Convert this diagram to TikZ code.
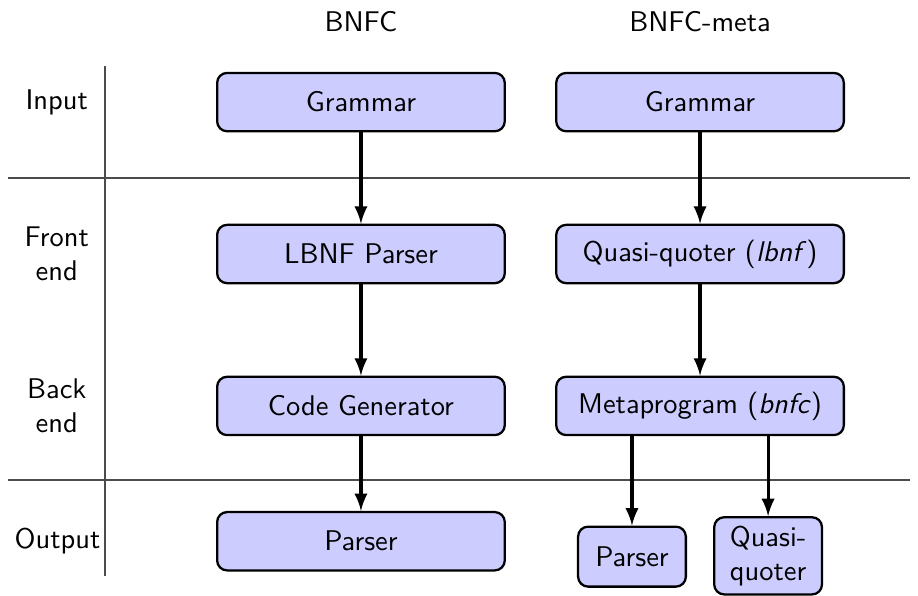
\documentclass[tikz,border=0pt]{standalone}
\usepackage{tikz}
\usetikzlibrary{positioning, arrows, calc}
\renewcommand{\familydefault}{\sfdefault}

\begin{document}
\begin{tikzpicture}[->, >=latex, thick]
	\tikzstyle{stage}=[rectangle, rounded corners=3.5pt, draw=black, fill=blue!20, minimum width=3.55cm, minimum height=0.72cm, inner sep=3pt]
	\tikzstyle{small stage}=[stage, minimum width=1.33cm, minimum height=0.74cm, align=center]
	\tikzstyle{phase}=[align=center]
	\tikzstyle{divider}=[-, draw=black!70, semithick]
	\tikzstyle{flow}=[line width=1.1pt]

	\useasboundingbox (0,0) rectangle (11.33,-7.355);

	% Column headings
	\node (bnfc) at (4.455, -0.27) {BNFC};
	\node (meta) at (8.64, -0.27) {BNFC-meta};

	% Phase labels on the left
	\node[phase] (in) at (0.70, -1.26) {Input};
	\node[phase] (fe) at (0.70, -3.135) {Front\\end};
	\node[phase] (be) at (0.70, -5.01) {Back\\end};
	\node[phase] (out) at (0.71, -6.68) {Output};

	% Dividing lines
	\draw[divider] (1.296, -0.815) -- (1.296, -7.11);
	\draw[divider] (0.1, -2.197) -- (11.23, -2.197);
	\draw[divider] (0.1, -5.924) -- (11.23, -5.924);

	% Plain BNFC pipeline
	\node[stage] (G-1) at (4.455, -1.26) {Grammar};
	\node[stage] (LP) at (4.455, -3.135) {LBNF Parser};
	\node[stage] (CG) at (4.455, -5.01) {Code Generator};
	\node[stage] (P-1) at (4.455, -6.68) {Parser};

	% BNFC-meta pipeline
	\node[stage] (G-2) at (8.64, -1.26) {Grammar};
	\node[stage] (QQ) at (8.64, -3.135) {Quasi-quoter (\textit{lbnf})};
	\node[stage] (MP) at (8.64, -5.01) {Metaprogram (\textit{bnfc})};
	\node[small stage] (P-2) at (7.80, -6.87) {Parser};
	\node[small stage] (Q-2) at (9.48, -6.86) {Quasi-\\quoter};

	% Connect the stages
	\path[flow] (G-1) edge (LP);
	\path[flow] (LP) edge (CG);
	\path[flow] (CG) edge (P-1);
	\path[flow] (G-2) edge (QQ);
	\path[flow] (QQ) edge (MP);
	\draw[flow] (MP.south -| P-2.north) -- (P-2.north);
	\draw[flow] (MP.south -| Q-2.north) -- (Q-2.north);
\end{tikzpicture}
\end{document}
